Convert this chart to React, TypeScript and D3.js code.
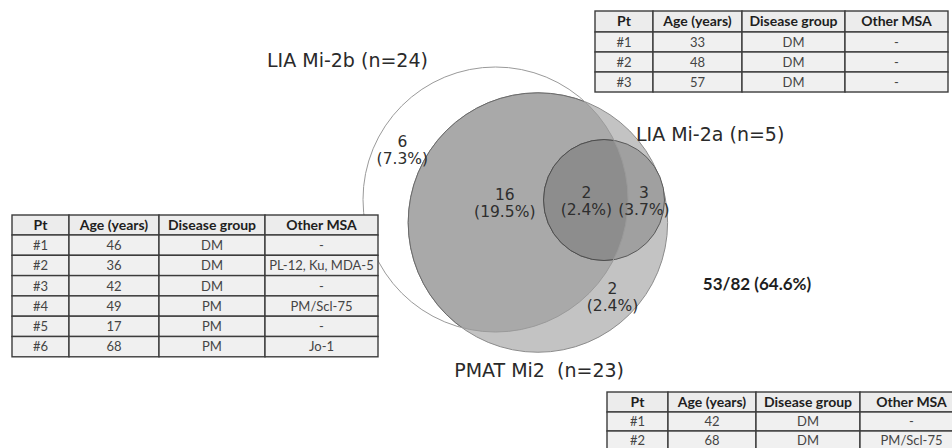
import React from "react";
import * as d3 from "d3";

// ---------- data ----------
const setLabels = ["LIA Mi-2b (n=24)", "PMAT Mi2  (n=23)", "LIA Mi-2a (n=5)"];
const setSizes = [24, 23, 5];
const regionNames = ["Mi-2b only", "Mi-2b & PMAT", "all three", "Mi-2a & PMAT", "PMAT only"];
const regionCounts = [6, 16, 2, 3, 2];
const totalPatients = 82;
const positiveCount = 53;

const tableHeader = ["Pt", "Age (years)", "Disease group", "Other MSA"];
const leftTableRows = [
  ["#1", "46", "DM", "-"],
  ["#2", "36", "DM", "PL-12, Ku, MDA-5"],
  ["#3", "42", "DM", "-"],
  ["#4", "49", "PM", "PM/Scl-75"],
  ["#5", "17", "PM", "-"],
  ["#6", "68", "PM", "Jo-1"],
];
const topTableRows = [
  ["#1", "33", "DM", "-"],
  ["#2", "48", "DM", "-"],
  ["#3", "57", "DM", "-"],
];
const bottomTableRows = [
  ["#1", "42", "DM", "-"],
  ["#2", "68", "DM", "PM/Scl-75"],
];

// ---------- layout (venn units: radius of largest set = 1) ----------
const vennCenters = [
  [0, 0],
  [0.32, 0.174],
  [0.819, 0.004],
];
const regionAnchors = [
  [-0.703, -0.38],
  [0.07, 0.02],
  [0.686, 0.0],
  [1.12, 0.0],
  [0.883, 0.73],
];
const setLabelAnchors = [
  [-1.117, -1.0],
  [0.329, 1.34],
  [1.62, -0.445],
];

const W = 952;
const H = 448;
const ORIGIN_X = 495.5;
const ORIGIN_Y = 199.5;
const UNIT = 132.5;

const LABEL_FONT = "'DejaVu Sans', sans-serif";
const TABLE_FONT = "Lato, 'Open Sans', sans-serif";

function Table({ x, y, cols, headerH, rowH, rows }) {
  const xs = [x];
  cols.forEach((c) => xs.push(xs[xs.length - 1] + c));
  const ys = [y, y + headerH];
  rows.forEach(() => ys.push(ys[ys.length - 1] + rowH));
  const allRows = [tableHeader, ...rows];
  return (
    <g>
      {allRows.map((row, ri) =>
        row.map((cell, ci) => {
          const x0 = xs[ci];
          const x1 = xs[ci + 1];
          const y0 = ys[ri];
          const y1 = ys[ri + 1];
          const isHead = ri === 0;
          return (
            <g key={`${ri}-${ci}`}>
              <rect
                x={x0}
                y={y0}
                width={x1 - x0}
                height={y1 - y0}
                fill={isHead ? "#ececec" : "#f0f0f0"}
                stroke="#3c3c3c"
                strokeWidth={1.4}
              />
              <text
                x={(x0 + x1) / 2}
                y={(y0 + y1) / 2 + 4.8}
                textAnchor="middle"
                fontFamily={TABLE_FONT}
                fontSize={isHead ? 14 : 13}
                fontWeight={isHead ? 700 : 400}
                fill={isHead ? "#1e1e1e" : "#444"}
              >
                {cell}
              </text>
            </g>
          );
        })
      )}
    </g>
  );
}

export default function App() {
  const sx = d3.scaleLinear().domain([0, 1]).range([ORIGIN_X, ORIGIN_X + UNIT]);
  const sy = d3.scaleLinear().domain([0, 1]).range([ORIGIN_Y, ORIGIN_Y + UNIT]);
  const rScale = d3.scaleSqrt().domain([0, d3.max(setSizes)]).range([0, UNIT]);

  const circles = setSizes.map((n, i) => ({
    cx: sx(vennCenters[i][0]),
    cy: sy(vennCenters[i][1]),
    r: rScale(n),
  }));
  const [c2b, cPM, c2a] = circles;
  const pct = (v) => `(${d3.format(".1f")((v / totalPatients) * 100)}%)`;

  return (
    <svg
      width={W}
      height={H}
      style={{ position: "absolute", left: 0, top: 0, display: "block", background: "#fff" }}
    >
      <defs>
        <clipPath id="clip2b">
          <circle cx={c2b.cx} cy={c2b.cy} r={c2b.r} />
        </clipPath>
      </defs>
      <rect x={0} y={0} width={W} height={H} fill="#fff" />

      {/* PMAT Mi2 */}
      <circle cx={cPM.cx} cy={cPM.cy} r={cPM.r} fill="#c3c3c3" stroke="#8c8c8c" strokeWidth={1} />
      {/* Mi-2b ∩ PMAT */}
      <circle
        cx={cPM.cx}
        cy={cPM.cy}
        r={cPM.r}
        fill="#a9a9a9"
        stroke="#6a6a6a"
        strokeWidth={1}
        clipPath="url(#clip2b)"
      />
      {/* Mi-2a */}
      <circle cx={c2a.cx} cy={c2a.cy} r={c2a.r} fill="#a0a0a0" stroke="#5a5a5a" strokeWidth={1} />
      <circle
        cx={c2a.cx}
        cy={c2a.cy}
        r={c2a.r}
        fill="#8d8d8d"
        stroke="#4e4e4e"
        strokeWidth={1}
        clipPath="url(#clip2b)"
      />
      {/* Mi-2b outline */}
      <circle cx={c2b.cx} cy={c2b.cy} r={c2b.r} fill="none" stroke="#9a9a9a" strokeWidth={1} />

      {/* region counts */}
      {regionCounts.map((v, i) => {
        const x = sx(regionAnchors[i][0]);
        const y = sy(regionAnchors[i][1]);
        return (
          <g key={regionNames[i]}>
            <text
              x={x}
              y={y - 2}
              textAnchor="middle"
              fontFamily={LABEL_FONT}
              fontSize={15.5}
              fill="#2e2e2e"
            >
              {v}
            </text>
            <text
              x={x}
              y={y + 15}
              textAnchor="middle"
              fontFamily={LABEL_FONT}
              fontSize={15.5}
              fill="#2e2e2e"
            >
              {pct(v)}
            </text>
          </g>
        );
      })}

      {/* set labels */}
      {setLabels.map((lab, i) => (
        <text
          key={lab}
          x={sx(setLabelAnchors[i][0])}
          y={sy(setLabelAnchors[i][1])}
          textAnchor="middle"
          fontFamily={LABEL_FONT}
          fontSize={19}
          fill="#2a2a2a"
          style={{ whiteSpace: "pre" }}
        >
          {lab}
        </text>
      ))}

      <text
        x={757}
        y={290}
        textAnchor="middle"
        fontFamily={TABLE_FONT}
        fontSize={17}
        fontWeight={700}
        fill="#1e1e1e"
      >
        {`${positiveCount}/${totalPatients} (${d3.format(".1f")((positiveCount / totalPatients) * 100)}%)`}
      </text>

      <Table x={595} y={11} cols={[58, 89, 103, 103]} headerH={21} rowH={20} rows={topTableRows} />
      <Table x={12} y={215} cols={[57, 90, 106, 113]} headerH={20} rowH={20.3} rows={leftTableRows} />
      <Table x={607} y={392} cols={[61, 88, 104, 103]} headerH={20} rowH={19} rows={bottomTableRows} />
    </svg>
  );
}
